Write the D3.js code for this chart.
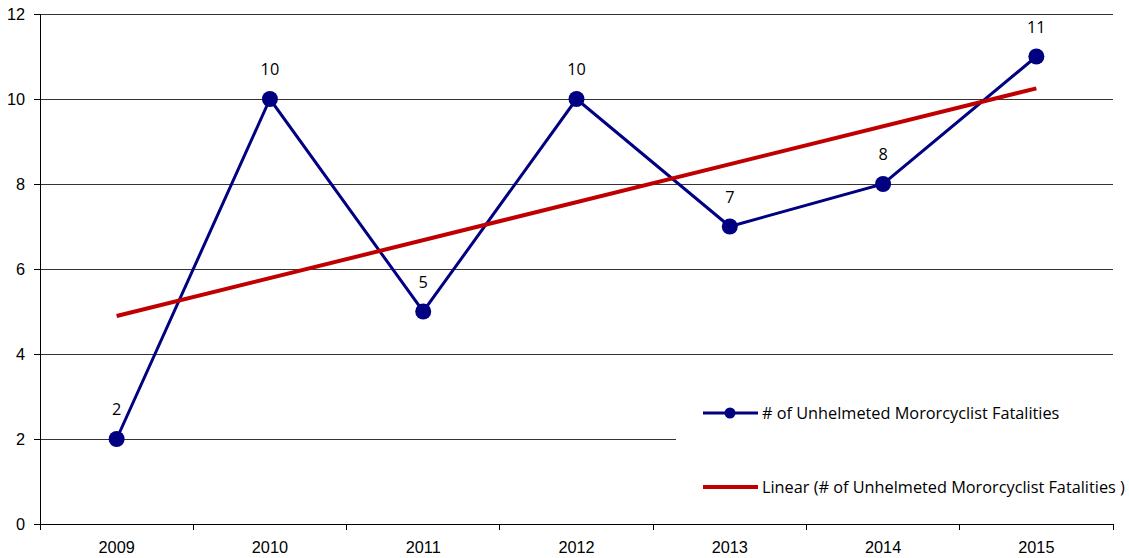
<!DOCTYPE html>
<html><head><meta charset="utf-8">
<script src="https://cdn.jsdelivr.net/npm/d3@7"></script>
<style>body{margin:0;background:#fff;} svg{display:block;font-family:"Open Sans",sans-serif;}</style>
</head><body>
<svg id="c" width="1129" height="558"></svg>
<script>
const years = ["2009","2010","2011","2012","2013","2014","2015"];
const fatalities = [2,10,5,10,7,8,11];
const yTicks = [0,2,4,6,8,10,12];
const seriesName = "# of Unhelmeted Mororcyclist Fatalities";
const trendName = "Linear (# of Unhelmeted Mororcyclist Fatalities )";

const svg = d3.select("#c");
const L=40,R=1113,T=14,B=524;
const FS=16.3;
const x = d3.scaleBand().domain(years).range([L,R]);
const y = d3.scaleLinear().domain([0,12]).range([B,T]);
const cx = d => x(d)+x.bandwidth()/2;

svg.append("g").selectAll("line").data(yTicks.filter(t=>t>0)).join("line")
  .attr("x1",L-6).attr("x2",R).attr("y1",d=>y(d)).attr("y2",d=>y(d))
  .attr("stroke","#000").attr("stroke-width",0.8).attr("shape-rendering","crispEdges");

const ya = svg.append("g").attr("transform",`translate(${L},0)`)
  .call(d3.axisLeft(y).tickValues(yTicks).tickSize(6).tickPadding(9));
const xa = svg.append("g").attr("transform",`translate(0,${B})`)
  .call(d3.axisBottom(x).tickSize(0).tickPadding(17));
svg.append("g").selectAll("line").data(years.concat(["end"])).join("line")
  .attr("x1",(d,i)=> i<years.length? x(d): R).attr("x2",(d,i)=> i<years.length? x(d): R)
  .attr("y1",B).attr("y2",B+6).attr("stroke","#000").attr("shape-rendering","crispEdges");
[ya,xa].forEach(g=>{
  g.selectAll("path,line").attr("stroke","#000").attr("shape-rendering","crispEdges");
  g.selectAll("text").attr("font-size",FS).attr("fill","#000").style("font-family","inherit");
});
ya.select(".domain").attr("d",`M0,${B}V${T}`);
xa.select(".domain").attr("d",`M${L},0H${R}`);

svg.append("rect").attr("x",676).attr("y",380).attr("width",453).attr("height",136).attr("fill","#fff");

// trend line via least squares from the data
const n=fatalities.length, xs=d3.range(1,n+1);
const mx=d3.mean(xs), my=d3.mean(fatalities);
const slope=d3.sum(xs,(v,i)=>(v-mx)*(fatalities[i]-my))/d3.sum(xs,v=>(v-mx)**2);
const icpt=my-slope*mx;
const trend=[[years[0],icpt+slope*1],[years[n-1],icpt+slope*n]];

svg.append("path").datum(fatalities)
  .attr("d",d3.line().x((d,i)=>cx(years[i])).y(d=>y(d)))
  .attr("fill","none").attr("stroke","#000080").attr("stroke-width",3);
svg.append("path").datum(trend)
  .attr("d",d3.line().x(d=>cx(d[0])).y(d=>y(d[1])))
  .attr("fill","none").attr("stroke","#C00000").attr("stroke-width",4);
svg.append("g").selectAll("circle").data(fatalities).join("circle")
  .attr("cx",(d,i)=>cx(years[i])).attr("cy",d=>y(d)).attr("r",8).attr("fill","#000080");
svg.append("g").selectAll("text").data(fatalities).join("text")
  .attr("x",(d,i)=>cx(years[i])).attr("y",d=>y(d)-24).attr("text-anchor","middle")
  .attr("font-size",FS).text(d=>d);

const lg=svg.append("g");
lg.append("line").attr("x1",703).attr("x2",758).attr("y1",413).attr("y2",413).attr("stroke","#000080").attr("stroke-width",3);
lg.append("circle").attr("cx",730).attr("cy",413).attr("r",5.5).attr("fill","#000080");
lg.append("text").attr("x",762).attr("y",419).attr("font-size",FS).text(seriesName);
lg.append("line").attr("x1",703).attr("x2",758).attr("y1",487).attr("y2",487).attr("stroke","#C00000").attr("stroke-width",4);
lg.append("text").attr("x",762).attr("y",493).attr("font-size",FS).text(trendName);
</script>
</body></html>
